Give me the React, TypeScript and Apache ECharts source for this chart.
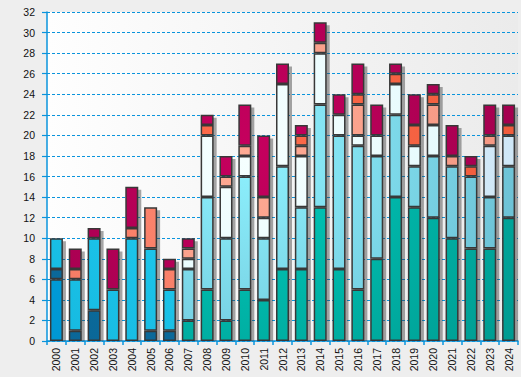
import React, { useEffect, useRef } from "react";
import * as echarts from "echarts";

const years = [
  "2000", "2001", "2002", "2003", "2004", "2005", "2006", "2007", "2008", "2009",
  "2010", "2011", "2012", "2013", "2014", "2015", "2016", "2017", "2018", "2019",
  "2020", "2021", "2022", "2023", "2024",
];

const teal = [0, 0, 0, 0, 0, 0, 0, 2, 5, 2, 5, 4, 7, 7, 13, 7, 5, 8, 14, 13, 12, 10, 9, 9, 12];
const blue = [6, 0, 0, 0, 0, 0, 0, 0, 0, 0, 0, 0, 0, 0, 0, 0, 0, 0, 0, 0, 0, 0, 0, 0, 0];
const darkBlue = [1, 1, 3, 0, 0, 1, 1, 0, 0, 0, 0, 0, 0, 0, 0, 0, 0, 0, 0, 0, 0, 0, 0, 0, 0];
const cyan = [3, 5, 7, 5, 10, 8, 4, 0, 0, 0, 0, 0, 0, 0, 0, 0, 0, 0, 0, 0, 0, 0, 0, 0, 0];
const lightBlue = [0, 0, 0, 0, 0, 0, 0, 5, 9, 8, 11, 6, 10, 6, 10, 13, 14, 10, 8, 4, 6, 7, 7, 5, 5];
const veryLight = [0, 0, 0, 0, 0, 0, 0, 1, 6, 5, 2, 2, 8, 5, 5, 2, 1, 2, 3, 2, 3, 0, 0, 0, 0];
const paleBlue = [0, 0, 0, 0, 0, 0, 0, 0, 0, 0, 0, 0, 0, 0, 0, 0, 0, 0, 0, 0, 0, 0, 0, 5, 3];
const salmon = [0, 0, 0, 0, 0, 0, 0, 1, 0, 1, 1, 2, 0, 1, 1, 0, 3, 0, 0, 0, 2, 1, 0, 1, 0];
const orange = [0, 1, 0, 0, 1, 4, 2, 0, 0, 0, 0, 0, 0, 0, 0, 0, 0, 0, 0, 0, 0, 0, 0, 0, 0];
const orangeRed = [0, 0, 0, 0, 0, 0, 0, 0, 1, 0, 0, 0, 0, 1, 0, 0, 1, 0, 1, 2, 1, 0, 1, 0, 1];
const crimson = [0, 2, 1, 4, 4, 0, 1, 1, 1, 2, 4, 6, 2, 1, 2, 2, 3, 3, 1, 3, 1, 3, 1, 3, 2];

const yTicks = { min: 0, max: 32, interval: 2 };

const stackSeries = [
  { name: "teal", data: teal },
  { name: "blue", data: blue },
  { name: "darkBlue", data: darkBlue },
  { name: "cyan", data: cyan },
  { name: "lightBlue", data: lightBlue },
  { name: "veryLight", data: veryLight },
  { name: "paleBlue", data: paleBlue },
  { name: "salmon", data: salmon },
  { name: "orange", data: orange },
  { name: "orangeRed", data: orangeRed },
  { name: "crimson", data: crimson },
];

const palette: Record<string, [string, string]> = {
  teal: ["#00ccbc", "#00958c"],
  blue: ["#00a4e2", "#0094d0"],
  darkBlue: ["#0c70a2", "#0a6494"],
  cyan: ["#22d0f4", "#12b2da"],
  lightBlue: ["#8ef2ff", "#62b2c8"],
  veryLight: ["#f6ffff", "#d8f6fb"],
  paleBlue: ["#e2f4fe", "#c8e2f4"],
  salmon: ["#ffaa94", "#f0907c"],
  orange: ["#ff8870", "#f27660"],
  orangeRed: ["#ff6c4c", "#ea5636"],
  crimson: ["#c6005e", "#98004a"],
};

export default function App() {
  const ref = useRef<HTMLDivElement>(null);

  useEffect(() => {
    if (!ref.current) return;
    const chart = echarts.init(ref.current, null, { renderer: "svg" });
    const axisBlue = "#0a94dc";
    const font = "Liberation Sans, Arial, sans-serif";

    const totals = years.map((_, i) =>
      stackSeries.reduce((s, ser) => s + ser.data[i], 0)
    );

    const grad = (c: [string, string]) =>
      new echarts.graphic.RadialGradient(
        250,
        150,
        360,
        [
          { offset: 0, color: c[0] },
          { offset: 1, color: c[1] },
        ],
        true
      );

    const barW = 13;

    const series: any[] = [
      {
        type: "custom",
        name: "shadow",
        z: 1,
        silent: true,
        data: totals.map((t, i) => [i, t]),
        encode: { x: 0, y: 1 },
        renderItem: (_params: any, api: any) => {
          const i = api.value(0);
          const t = api.value(1);
          const p1 = api.coord([i, t]);
          const p0 = api.coord([i, 0]);
          return {
            type: "rect",
            shape: {
              x: p1[0] - barW / 2 + 3,
              y: p1[1] + 3,
              width: barW,
              height: Math.max(0, p0[1] - p1[1] - 3),
            },
            style: { fill: "rgba(60,60,60,0.45)" },
          };
        },
      },
      ...stackSeries.map((s) => ({
        type: "bar",
        name: s.name,
        stack: "total",
        z: 2,
        barWidth: barW,
        data: s.data.map((v) => (v === 0 ? "-" : v)),
        itemStyle: {
          color: grad(palette[s.name]),
          borderColor: "#383838",
          borderWidth: 1.5,
        },
      })),
    ];

    chart.setOption({
      animation: false,
      backgroundColor: "#eeeeee",
      grid: {
        left: 47,
        right: 3,
        top: 12,
        bottom: 36,
        show: true,
        borderWidth: 0,
        backgroundColor: new echarts.graphic.LinearGradient(0, 0, 1, 0, [
          { offset: 0, color: "#fefefe" },
          { offset: 1, color: "#ebebeb" },
        ]),
      },
      xAxis: {
        type: "category",
        data: years,
        boundaryGap: true,
        axisLine: { lineStyle: { color: axisBlue, width: 1.5 } },
        axisTick: { show: true, length: 4, lineStyle: { color: axisBlue, width: 1.5 } },
        axisLabel: {
          rotate: 90,
          margin: 7,
          fontSize: 10.5,
          color: "#111",
          fontFamily: font,
          interval: 0,
        },
        splitLine: { show: false },
      },
      yAxis: {
        type: "value",
        min: yTicks.min,
        max: yTicks.max,
        interval: yTicks.interval,
        axisLine: { show: true, lineStyle: { color: axisBlue, width: 1.5 } },
        axisTick: { show: true, length: 5, lineStyle: { color: axisBlue, width: 1.2 } },
        axisLabel: {
          margin: 12,
          fontSize: 10.5,
          color: "#111",
          fontFamily: font,
        },
        splitLine: {
          show: true,
          lineStyle: { color: axisBlue, width: 1, type: [3, 2] },
        },
      },
      series,
    });

    return () => {
      chart.dispose();
    };
  }, []);

  return (
    <div
      ref={ref}
      style={{ position: "fixed", left: 0, top: 0, width: 521, height: 377 }}
    />
  );
}
